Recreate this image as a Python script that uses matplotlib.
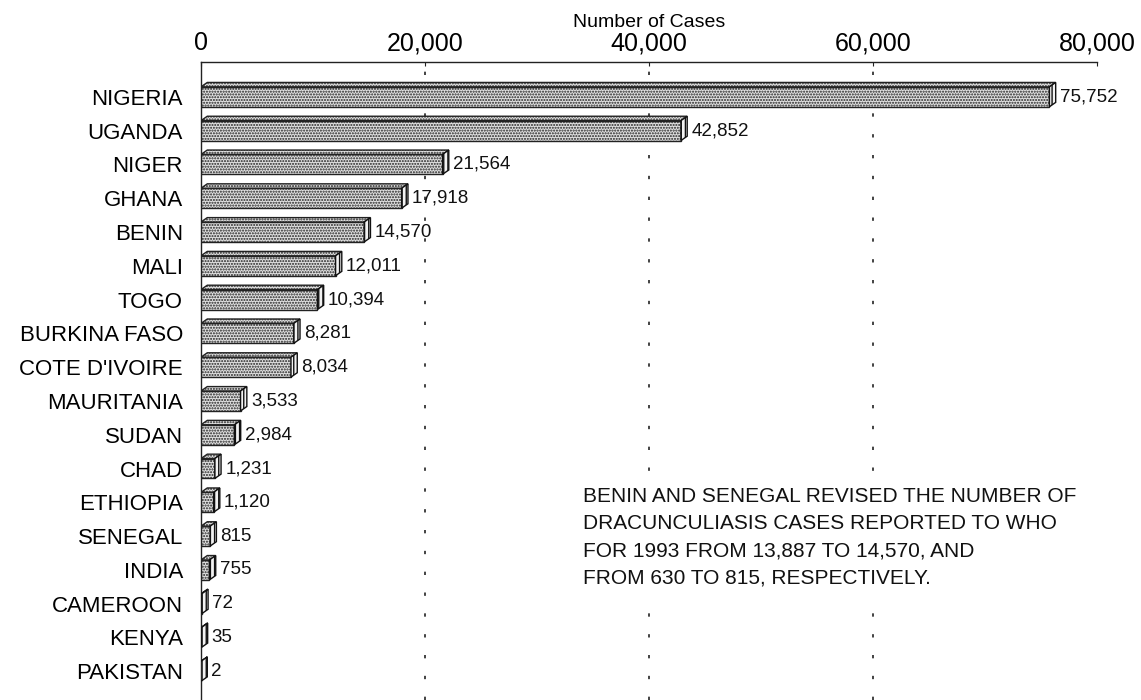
"""Dracunculiasis cases by country, 1993 - 3D-style horizontal bar chart."""

import matplotlib.pyplot as plt
from matplotlib.patches import Polygon

plt.rcParams["font.family"] = ["Liberation Sans", "DejaVu Sans"]
plt.rcParams["hatch.linewidth"] = 1.0

countries = [
    "NIGERIA", "UGANDA", "NIGER", "GHANA", "BENIN", "MALI", "TOGO",
    "BURKINA FASO", "COTE D'IVOIRE", "MAURITANIA", "SUDAN", "CHAD",
    "ETHIOPIA", "SENEGAL", "INDIA", "CAMEROON", "KENYA", "PAKISTAN",
]
cases = [
    75752, 42852, 21564, 17918, 14570, 12011, 10394,
    8281, 8034, 3533, 2984, 1231,
    1120, 815, 755, 72, 35, 2,
]
x_ticks = [0, 20000, 40000, 60000, 80000]
note = ("BENIN AND SENEGAL REVISED THE NUMBER OF\n"
        "DRACUNCULIASIS CASES REPORTED TO WHO\n"
        "FOR 1993 FROM 13,887 TO 14,570, AND\n"
        "FROM 630 TO 815, RESPECTIVELY.")

fig = plt.figure(figsize=(11.41, 7.0), dpi=100)
ax = fig.add_axes([201 / 1141, 0.0, 896 / 1141, 638 / 700])

bar_h = 0.59
depth_x = 560    # data units (~6 px)
depth_y = 0.13   # data units (~4 px)
face = "#e0e0e0"
pos = list(range(len(countries)))

ax.barh(pos, cases, height=bar_h, color=face, edgecolor="#222222",
        hatch="......", linewidth=1.0, zorder=3)

for i, v in zip(pos, cases):
    top, bot = i - bar_h / 2, i + bar_h / 2
    # top face
    ax.add_patch(Polygon([(0, top), (depth_x, top - depth_y),
                          (v + depth_x, top - depth_y), (v, top)],
                         closed=True, facecolor=face, edgecolor="#222222",
                         hatch="......", linewidth=1.0, zorder=3))
    # side face
    ax.add_patch(Polygon([(v, top), (v + depth_x, top - depth_y),
                          (v + depth_x, bot - depth_y), (v, bot)],
                         closed=True, facecolor="#f2f2f2", edgecolor="#111111",
                         hatch="||||", linewidth=1.0, zorder=3))
    ax.annotate(f"{v:,}", (v + depth_x, i), xytext=(3, 0),
                textcoords="offset points", va="center", ha="left",
                fontsize=13.5, color="#111111")

for x in x_ticks[1:-1]:
    ax.axvline(x, color="#222222", linewidth=1.2, linestyle=(0, (2, 10.5)),
               zorder=1)

ax.set_xlim(0, 80000)
ax.set_ylim(17.85, -1.03)

ax.xaxis.tick_top()
ax.xaxis.set_label_position("top")
ax.set_xticks(x_ticks)
ax.set_xticklabels([f"{t:,}" for t in x_ticks], fontsize=18)
ax.tick_params(axis="x", direction="in", length=3, pad=5, color="#222222")
ax.set_xlabel("Number of Cases", fontsize=14, labelpad=3)

ax.set_yticks(pos)
ax.set_yticklabels(countries, fontsize=16)
ax.tick_params(axis="y", length=0, pad=13)

for side in ("right", "bottom"):
    ax.spines[side].set_visible(False)
for side in ("top", "left"):
    ax.spines[side].set_linewidth(1.0)
    ax.spines[side].set_color("#222222")

ax.text(0.4268, 0.334, note, transform=ax.transAxes, fontsize=15,
        linespacing=1.54, va="top", ha="left", color="#111111", zorder=5,
        bbox=dict(facecolor="white", edgecolor="none", pad=6))

fig.savefig("out.png", dpi=100)
